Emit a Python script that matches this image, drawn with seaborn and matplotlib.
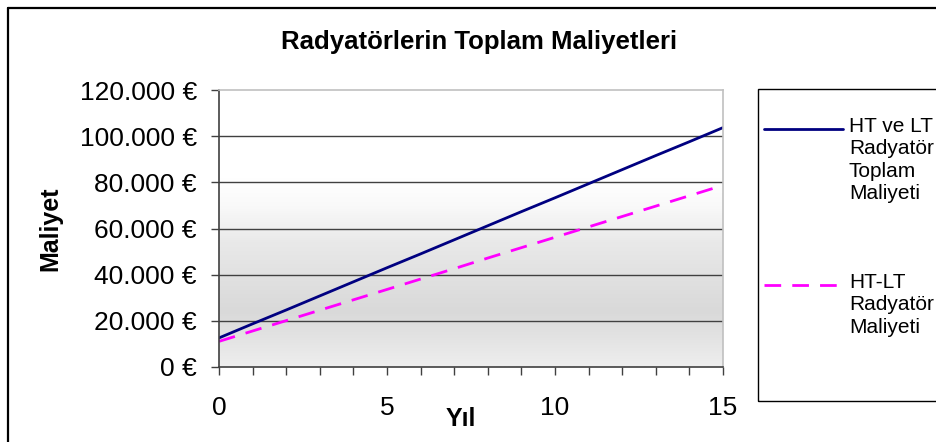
import numpy as np
import pandas as pd
import seaborn as sns
import matplotlib.pyplot as plt
from matplotlib.colors import LinearSegmentedColormap
from matplotlib.lines import Line2D
from matplotlib.patches import Rectangle
from matplotlib.ticker import FuncFormatter, MultipleLocator

years = list(range(16))
toplam = [12600, 18700, 24700, 30800, 36900, 43000, 49000, 55100,
          61200, 67300, 73300, 79400, 85500, 91600, 97600, 103700]
htlt = [11100, 15600, 20100, 24600, 29100, 33600, 38100, 42600,
        47200, 51700, 56200, 60700, 65200, 69700, 74200, 78700]
labels = ["HT ve LT\nRadyatör\nToplam\nMaliyeti", "HT-LT\nRadyatör\nMaliyeti"]
colors = ["#000080", "#ff00ff"]

sns.set_style("white")
plt.rcParams['font.family'] = ['Liberation Sans', 'DejaVu Sans']
plt.rcParams['text.color'] = 'black'
plt.rcParams['axes.labelcolor'] = 'black'
plt.rcParams['xtick.labelcolor'] = 'black'
plt.rcParams['ytick.labelcolor'] = 'black'

fig = plt.figure(figsize=(9.37, 4.42), dpi=100)
ax = fig.add_axes([219 / 937, 1 - 367 / 442, 504 / 937, 277 / 442])

# background gradient of the plot area
grad = LinearSegmentedColormap.from_list("bg", [
    (0.0, "#eeeeee"), (0.2, "#d9d9d9"), (0.45, "#e9e9e9"),
    (0.58, "#f9f9f9"), (0.68, "#ffffff"), (1.0, "#ffffff")])
ax.imshow(np.linspace(0, 1, 256).reshape(-1, 1), cmap=grad, origin="lower",
          aspect="auto", extent=[0, 1, 0, 1], transform=ax.transAxes, zorder=0)

df = pd.DataFrame({"Yıl": years, "toplam": toplam, "htlt": htlt})
sns.lineplot(data=df, x="Yıl", y="toplam", ax=ax, color=colors[0], lw=2, zorder=3)
sns.lineplot(data=df, x="Yıl", y="htlt", ax=ax, color=colors[1], lw=2,
             linestyle=(0, (6, 4)), zorder=3)

ax.set_xlim(0, 15)
ax.set_ylim(0, 120000)
ax.yaxis.set_major_locator(MultipleLocator(20000))
ax.xaxis.set_major_locator(MultipleLocator(5))
ax.xaxis.set_minor_locator(MultipleLocator(1))
ax.yaxis.set_major_formatter(FuncFormatter(lambda v, p: f"{int(v):,} €".replace(",", ".")))
for v in range(20000, 120000, 20000):
    ax.axhline(v, color="#404040", lw=1, zorder=2)

ax.tick_params(axis="y", which="major", direction="out", length=6, width=1,
               color="#404040", labelsize=19, pad=10, left=True)
ax.tick_params(axis="x", which="both", direction="out", length=6, width=1,
               color="#404040", bottom=True)
ax.tick_params(axis="x", which="major", labelsize=19, pad=15)
ax.spines["left"].set_color("#404040")
ax.spines["bottom"].set_color("#404040")
ax.spines["top"].set_color("#c0c0c0")
ax.spines["right"].set_color("#c0c0c0")
for s in ax.spines.values():
    s.set_linewidth(1.2)
    s.set_zorder(4)

ax.set_xlabel("Yıl", fontsize=18, fontweight="bold")
ax.xaxis.set_label_coords(0.48, -0.145)
ax.set_ylabel("Maliyet", fontsize=18, fontweight="bold")
ax.yaxis.set_label_coords(-0.31, 0.5)
fig.text(479 / 937, 1 - 42 / 442, "Radyatörlerin Toplam Maliyetleri",
         ha="center", va="center", fontsize=18.5, fontweight="bold")

# outer chart border
fig.add_artist(Line2D([8 / 937, 1], [1 - 8 / 442] * 2, color="black", lw=1.6))
fig.add_artist(Line2D([8 / 937] * 2, [0, 1 - 8 / 442], color="black", lw=1.6))

# legend box
fig.add_artist(Rectangle((758 / 937, 1 - 401 / 442), 0.3, (401 - 89) / 442,
                         transform=fig.transFigure, fill=False, ec="black", lw=1))
for i, (lab, c, y) in enumerate(zip(labels, colors, [129, 285])):
    ls = "-" if i == 0 else (0, (6, 4))
    fig.add_artist(Line2D([764 / 937, 843 / 937], [1 - y / 442] * 2,
                          color=c, lw=2, linestyle=ls))
    fig.text(849 / 937, 1 - (y - 12) / 442, lab, ha="left", va="top",
             fontsize=15, linespacing=1.22)

fig.savefig("out.png", dpi=100)
